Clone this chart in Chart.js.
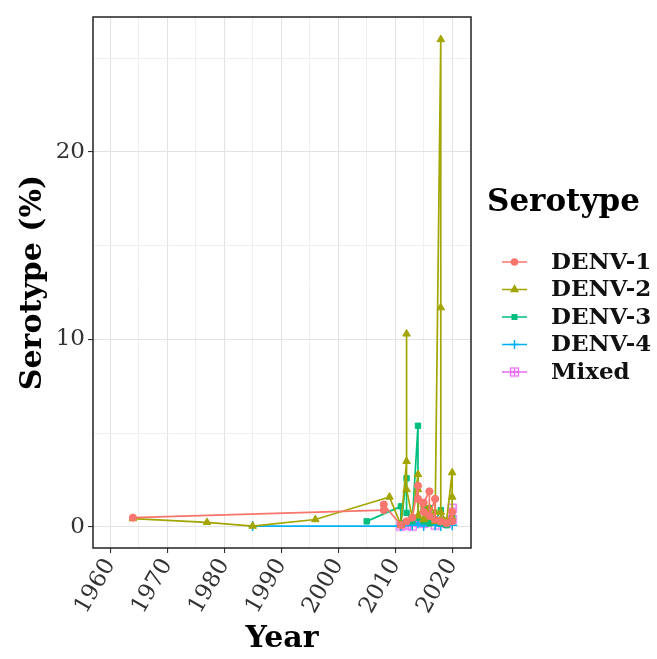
<!DOCTYPE html>
<html><head><meta charset="utf-8">
<script src="https://cdn.jsdelivr.net/npm/chart.js@4.4.1/dist/chart.umd.min.js"></script>
<style>html,body{margin:0;padding:0;background:#fff}#wrap{width:657px;height:659px;position:relative}</style>
</head><body><div id="wrap"><canvas id="c" width="657" height="659"></canvas></div>
<script>
const seriesNames = ["DENV-1","DENV-2","DENV-3","DENV-4","Mixed"];
const seriesColors = ["#F8766D","#A3A500","#00BF7D","#00B0F6","#E76BF3"];
const yTicks = [0,10,20];
const xTicks = [1960,1970,1980,1990,2000,2010,2020];
// [year, percent]
const denv1 = [[1964,0.5],[2008,0.9],[2008,1.2],[2011,0.1],[2012,0.3],[2013,0.5],[2014,2.2],[2014,1.5],[2015,0.8],[2015,1.3],[2016,1.9],[2016,0.6],[2017,1.5],[2017,0.4],[2018,0.3],[2019,0.2],[2020,0.8],[2020,0.3]];
const denv2 = [[1964,0.45],[1977,0.25],[1985,0.05],[1996,0.4],[2009,1.6],[2011,0.1],[2012,3.5],[2012,10.3],[2012,2.0],[2013,0.5],[2014,2.8],[2014,2.0],[2014,0.6],[2015,1.2],[2015,0.4],[2016,1.0],[2016,0.5],[2017,0.8],[2017,0.3],[2018,26.0],[2018,0.4],[2018,11.7],[2018,0.8],[2019,0.3],[2020,2.9],[2020,1.6],[2020,0.5]];
const denv3 = [[2005,0.3],[2011,1.1],[2011,0.2],[2012,2.6],[2012,0.75],[2013,0.3],[2014,5.4],[2014,0.5],[2015,0.3],[2015,0.9],[2016,0.2],[2016,1.0],[2017,0.3],[2018,0.9],[2018,0.2],[2019,0.1],[2020,0.5],[2020,0.3]];
const denv4 = [[1985,0.05],[2011,0.05],[2013,0.1],[2014,0.2],[2015,0.05],[2016,0.3],[2017,0.1],[2018,0.05],[2019,0.2],[2020,0.1]];
const mixed = [[2011,0.05],[2012,0.1],[2013,0.05],[2014,0.3],[2015,0.2],[2016,0.4],[2017,0.1],[2018,0.3],[2019,0.2],[2020,1.0],[2020,0.4]];
const allSeries = [denv1,denv2,denv3,denv4,mixed];

const SERIF = "'DejaVu Serif', serif";
function boxPlus(color){
  const c=document.createElement('canvas'); c.width=11;c.height=11;
  const g=c.getContext('2d'); g.strokeStyle=color; g.lineWidth=1.3;
  g.strokeRect(1.5,1.5,8,8); g.beginPath(); g.moveTo(5.5,1.5);g.lineTo(5.5,9.5);g.moveTo(1.5,5.5);g.lineTo(9.5,5.5);g.stroke();
  return c;
}
const pointStyles = ['circle','triangle','rect','cross', boxPlus(seriesColors[4])];
const pointRadius = [3.6,4.4,3.8,5,5];

const datasets = allSeries.map((s,i)=>({
  label: seriesNames[i],
  data: s.map(p=>({x:p[0],y:p[1]})),
  borderColor: seriesColors[i],
  backgroundColor: seriesColors[i],
  borderWidth: 1.7,
  pointStyle: pointStyles[i],
  pointRadius: pointRadius[i],
  pointBorderWidth: i===3?1.5:1,
  tension: 0
}));

const legendPlugin = {
  id:'customLegend',
  afterDatasetsDraw(chart){
    const {ctx, chartArea:a} = chart;
    ctx.save();
    ctx.strokeStyle='#222'; ctx.lineWidth=1.5;
    ctx.strokeRect(a.left,a.top,a.right-a.left,a.bottom-a.top);
    ctx.restore();
  },
  afterDraw(chart){
    const ctx = chart.ctx;
    ctx.save();
    ctx.fillStyle='#000';
    ctx.font = "bold 31px " + SERIF;
    ctx.textBaseline='middle'; ctx.textAlign='left';
    ctx.fillText('Serotype', 487, 203);
    ctx.font = "bold 23px " + SERIF;
    seriesNames.forEach((n,i)=>{
      const y = 262 + i*27.5;
      ctx.strokeStyle=seriesColors[i]; ctx.lineWidth=1.5;
      ctx.beginPath(); ctx.moveTo(502,y); ctx.lineTo(527,y); ctx.stroke();
      ctx.fillStyle=seriesColors[i];
      Chart.helpers.drawPoint(ctx,{pointStyle:pointStyles[i],rotation:0,radius:pointRadius[i]-0.6,borderWidth:1}, 514.5, y);
      ctx.fillStyle='#111';
      ctx.fillText(n, 551, y+1);
    });
    ctx.restore();
  }
};

new Chart(document.getElementById('c'), {
  type:'line',
  data:{datasets},
  plugins:[legendPlugin],
  options:{
    responsive:false, animation:false,
    layout:{padding:{left:0,top:17,right:186,bottom:0}},
    plugins:{legend:{display:false}, tooltip:{enabled:false}},
    scales:{
      x:{type:'linear', min:1957, max:2023.3,
        afterBuildTicks(s){ s.ticks=[]; for(let v=1960; v<=2020; v+=5) s.ticks.push({value:v}); },
        afterFit(s){ s.height=111; },
        ticks:{ autoSkip:false, maxRotation:60, minRotation:60, padding:1, color:'#333',
          font:{family:SERIF, size:23},
          callback:(v)=> xTicks.includes(v)? String(v):'' },
        grid:{ color:(c)=> (c.tick && xTicks.includes(c.tick.value))?'#E3E3E3':'#EEEEEE',
          lineWidth:(c)=> (c.tick && xTicks.includes(c.tick.value))?1.1:0.9,
          tickColor:(c)=> (c.tick && xTicks.includes(c.tick.value))?'#333':'rgba(0,0,0,0)',
          tickLength:5, drawTicks:true },
        border:{display:false},
        title:{display:true, text:'Year', color:'#000', font:{family:SERIF, size:30, weight:'bold'}, padding:{top:0,bottom:2}}
      },
      y:{type:'linear', min:-1.12, max:27.2,
        afterBuildTicks(s){ s.ticks=[]; for(let v=0; v<=25; v+=5) s.ticks.push({value:v}); },
        afterFit(s){ s.width=93; },
        ticks:{ autoSkip:false, padding:3, color:'#333', font:{family:SERIF, size:23},
          callback:(v)=> yTicks.includes(v)? String(v):'' },
        grid:{ color:(c)=> (c.tick && yTicks.includes(c.tick.value))?'#E3E3E3':'#EEEEEE',
          lineWidth:(c)=> (c.tick && yTicks.includes(c.tick.value))?1.1:0.9,
          tickColor:(c)=> (c.tick && yTicks.includes(c.tick.value))?'#333':'rgba(0,0,0,0)',
          tickLength:5, drawTicks:true },
        border:{display:false},
        title:{display:true, text:'Serotype (%)', color:'#000', font:{family:SERIF, size:30, weight:'bold'}, padding:{top:15,bottom:0}}
      }
    }
  }
});
</script></body></html>
